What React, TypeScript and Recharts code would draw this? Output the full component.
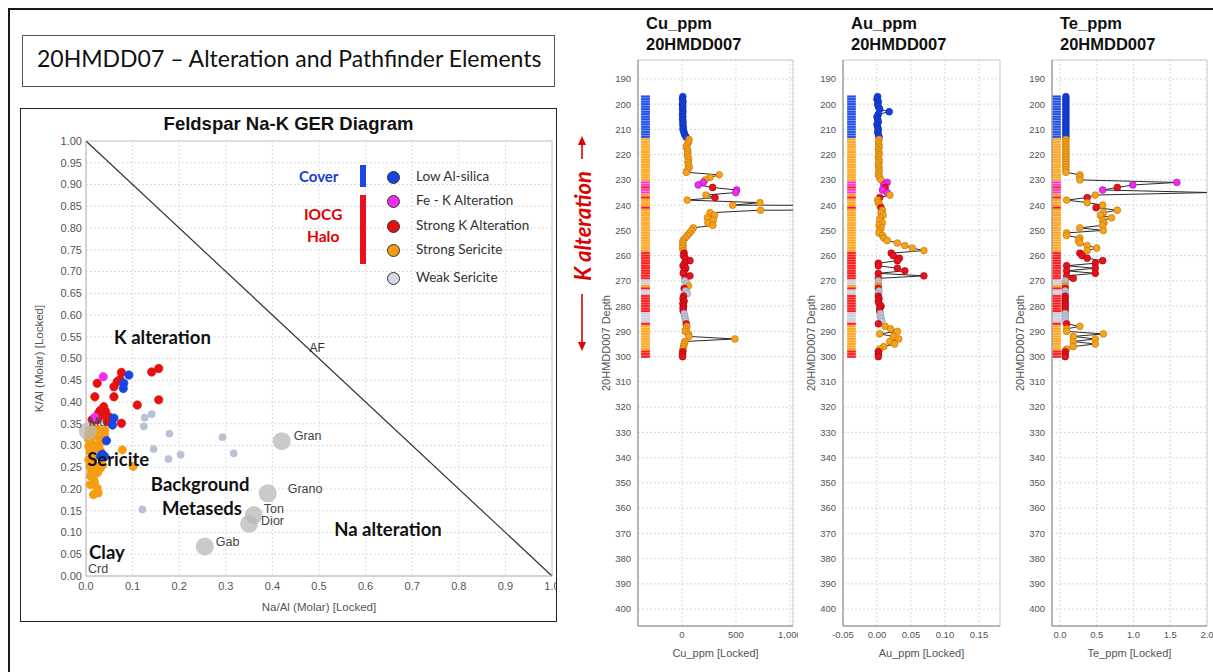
import React from 'react';
import {
  ScatterChart, Scatter, XAxis, YAxis, CartesianGrid, ReferenceLine, ReferenceDot, ReferenceArea, LabelList,
} from 'recharts';

const ARIAL = '"Liberation Sans", Arial, sans-serif';
const CALIBRI = 'Lato, "Open Sans", sans-serif';

// GER diagram samples as [Na/Al, K/Al]
const lowAlSilica = [
  [0.092, 0.462], [0.081, 0.443], [0.08, 0.431], [0.06, 0.363], [0.057, 0.347],
  [0.044, 0.311], [0.04, 0.275], [0.031, 0.275], [0.035, 0.28],
];
const feKAlteration = [[0.037, 0.458], [0.019, 0.365]];
const strongKAlteration = [
  [0.024, 0.443], [0.019, 0.412], [0.076, 0.468], [0.073, 0.452], [0.067, 0.447], [0.06, 0.435],
  [0.06, 0.412], [0.141, 0.469], [0.156, 0.477], [0.156, 0.405], [0.11, 0.393], [0.076, 0.351],
  [0.038, 0.389], [0.042, 0.378], [0.027, 0.374], [0.049, 0.366], [0.024, 0.359], [0.013, 0.359],
  [0.035, 0.37], [0.045, 0.355], [0.03, 0.38], [0.055, 0.35],
];
const strongSericite = [
  [0.006, 0.328], [0.013, 0.32], [0.009, 0.335], [0.02, 0.33], [0.027, 0.336], [0.04, 0.324],
  [0.035, 0.309], [0.03, 0.315], [0.024, 0.299], [0.006, 0.298], [0.012, 0.305], [0.018, 0.29],
  [0.009, 0.285], [0.03, 0.29], [0.006, 0.267], [0.015, 0.27], [0.009, 0.252], [0.02, 0.252],
  [0.031, 0.248], [0.012, 0.24], [0.025, 0.238], [0.016, 0.225], [0.01, 0.23], [0.009, 0.21],
  [0.024, 0.202], [0.016, 0.187], [0.026, 0.191], [0.018, 0.215], [0.035, 0.255], [0.078, 0.29],
  [0.101, 0.252], [0.005, 0.315], [0.015, 0.34], [0.04, 0.335],
];
const weakSericite = [
  [0.126, 0.364], [0.141, 0.372], [0.124, 0.344], [0.179, 0.327], [0.145, 0.292], [0.177, 0.269],
  [0.203, 0.279], [0.293, 0.319], [0.317, 0.282], [0.121, 0.153],
];

// reference rock / mineral compositions
const refNames = ['Mu', 'Gab', 'Dior', 'Ton', 'Grano', 'Gran'];
const refNaAl = [0.004, 0.255, 0.35, 0.36, 0.39, 0.42];
const refKAl = [0.333, 0.068, 0.12, 0.14, 0.19, 0.31];

const regionText = ['K alteration', 'Sericite', 'Background', 'Metaseds', 'Na alteration', 'Clay'];
const regionNaAl = [0.164, 0.069, 0.245, 0.249, 0.648, 0.045];
const regionKAl = [0.549, 0.269, 0.211, 0.156, 0.108, 0.055];

// downhole log, 20HMDD007
const depthM = [
  197, 198, 199, 200, 201, 202, 203, 204, 205, 206, 207, 208, 209, 210, 211, 212, 213,
  214, 215, 216, 217, 218, 219, 220, 221, 222, 223, 224, 225, 226, 227, 228, 229, 230,
  231, 232, 233, 234, 235, 236, 237, 238, 239, 240, 241, 242,
  243, 244, 245, 246, 247, 248, 249, 250, 251, 252, 253, 254, 255, 256, 257, 258,
  259, 260, 261, 262, 263, 264, 265, 266, 267, 268, 269,
  270, 271, 272, 273, 274, 275,
  276, 277, 278, 279, 280, 281, 282,
  283, 284, 285, 286, 287,
  288, 289, 290, 291, 292, 293, 294, 295, 296, 297,
  298, 299, 300,
];
// L = Low Al-silica, F = Fe-K, K = Strong K, S = Strong sericite, W = Weak sericite
const altClass = [
  'L', 'L', 'L', 'L', 'L', 'L', 'L', 'L', 'L', 'L', 'L', 'L', 'L', 'L', 'L', 'L', 'L',
  'S', 'S', 'S', 'S', 'S', 'S', 'S', 'S', 'S', 'S', 'S', 'S', 'S', 'S', 'S', 'S', 'S',
  'F', 'F', 'K', 'F', 'F', 'S', 'K', 'S', 'S', 'S', 'K', 'S',
  'S', 'S', 'S', 'S', 'S', 'S', 'S', 'S', 'S', 'S', 'S', 'S', 'S', 'S', 'S', 'S',
  'K', 'K', 'K', 'K', 'K', 'K', 'K', 'K', 'K', 'K', 'K',
  'W', 'W', 'S', 'K', 'W', 'W',
  'K', 'K', 'K', 'K', 'K', 'K', 'K',
  'W', 'W', 'W', 'W', 'K',
  'S', 'S', 'S', 'S', 'S', 'S', 'S', 'S', 'S', 'S',
  'K', 'K', 'K',
];
const cuPpm = [
  8, 5, 10, 4, 8, 6, 9, 5, 8, 6, 10, 8, 12, 10, 18, 25, 38,
  65, 62, 48, 40, 52, 55, 50, 56, 62, 55, 60, 68, 52, 40, 345, 260, 215,
  198, 151, 284, 506, 498, 222, 306, 49, 722, 469, 12000, 728,
  260, 300, 235, 290, 240, 285, 105, 90, 70, 50, 30, 10, 8, 10, 6, 12,
  20, 15, 30, 74, 25, 10, 35, 20, 12, 74, 30,
  25, 45, 60, 20, 35, 50,
  15, 10, 20, 8, 15, 10, 12,
  20, 25, 30, 35, 40,
  45, 38, 30, 59, 65, 490, 28, 20, 15, 10,
  8, 5, 6,
];
const auPpm = [
  0.001, 0.0, 0.002, 0.001, 0.002, 0.004, 0.018, 0.002, 0.0, 0.001, 0.002, 0.0, 0.001, 0.002, 0.001, 0.002, 0.003,
  0.003, 0.002, 0.003, 0.003, 0.002, 0.003, 0.003, 0.002, 0.003, 0.003, 0.002, 0.003, 0.003, 0.003, 0.002, 0.004, 0.006,
  0.015, 0.01, 0.012, 0.008, 0.015, 0.019, 0.004, 0.001, 0.002, 0.004, 0.006, 0.008,
  0.006, 0.009, 0.005, 0.004, 0.008, 0.003, 0.006, 0.004, 0.003, 0.008, 0.01, 0.015, 0.03, 0.041, 0.052, 0.069,
  0.021, 0.024, 0.033, 0.03, 0.002, 0.002, 0.03, 0.041, 0.002, 0.069, 0.002,
  0.002, 0.002, 0.002, 0.002, 0.003, 0.002,
  0.002, 0.003, 0.002, 0.003, 0.006, 0.004, 0.004,
  0.005, 0.005, 0.006, 0.007, 0.002,
  0.012, 0.02, 0.03, 0.004, 0.024, 0.032, 0.019, 0.026, 0.01, 0.004,
  0.002, 0.002, 0.002,
];
const tePpm = [
  0.08, 0.08, 0.08, 0.08, 0.08, 0.08, 0.08, 0.08, 0.08, 0.08, 0.08, 0.08, 0.08, 0.08, 0.08, 0.08, 0.08,
  0.08, 0.08, 0.08, 0.08, 0.08, 0.08, 0.08, 0.08, 0.08, 0.08, 0.08, 0.08, 0.08, 0.08, 0.27, 0.27, 0.27,
  1.59, 0.99, 0.78, 0.58, 2.05, 0.48, 0.37, 0.09, 0.37, 0.58, 0.49, 0.78,
  0.59, 0.55, 0.7, 0.58, 0.6, 0.58, 0.27, 0.59, 0.09, 0.09, 0.27, 0.25, 0.27, 0.37, 0.5, 0.37,
  0.27, 0.3, 0.37, 0.58, 0.48, 0.09, 0.48, 0.09, 0.48, 0.09, 0.18,
  0.07, 0.07, 0.07, 0.07, 0.07, 0.07,
  0.07, 0.07, 0.07, 0.07, 0.07, 0.07, 0.07,
  0.07, 0.07, 0.07, 0.07, 0.09,
  0.27, 0.09, 0.09, 0.59, 0.18, 0.48, 0.18, 0.48, 0.18, 0.09,
  0.07, 0.07, 0.07,
];

const depthTicks = [190, 200, 210, 220, 230, 240, 250, 260, 270, 280, 290, 300, 310, 320, 330, 340, 350, 360, 370, 380, 390, 400];
const gerYTicks = [0, 0.05, 0.1, 0.15, 0.2, 0.25, 0.3, 0.35, 0.4, 0.45, 0.5, 0.55, 0.6, 0.65, 0.7, 0.75, 0.8, 0.85, 0.9, 0.95, 1];
const gerXTicks = [0, 0.1, 0.2, 0.3, 0.4, 0.5, 0.6, 0.7, 0.8, 0.9, 1];

const fillOf: Record<string, string> = { L: '#1440e0', F: '#f02cf0', K: '#e8121c', S: '#f7a11c', W: '#c3c9db' };
const edgeOf: Record<string, string> = { L: '#0b2a9e', F: '#a010a0', K: '#a00008', S: '#b87400', W: '#8a92ab' };
const stripOf: Record<string, string> = { L: '#1f4fe8', F: '#ff36d2', K: '#ff1a1a', S: '#ffa51e', W: '#c9d0e2' };

const rows = depthM.map((d, i) => ({ depth: d, cls: altClass[i], cu: cuPpm[i], au: auPpm[i], te: tePpm[i] }));
const pts = (a: number[][]) => a.map(([x, y]) => ({ x, y }));
const refPts = refNames.map((n, i) => ({ name: n, x: refNaAl[i], y: refKAl[i] }));
const labelShift: Record<string, number[]> = {
  Mu: [1, -9], Gab: [11, -4], Dior: [12, -3], Ton: [10, -6], Grano: [20, -4], Gran: [12, -5],
};

const dot = (fill: string, stroke: string, r: number) => (p: any) => (
  <circle cx={p.cx} cy={p.cy} r={r} fill={fill} stroke={stroke} strokeWidth={0.7} />
);

function RefLabel(p: any) {
  const s = labelShift[p.value] || [10, -4];
  return (
    <text x={p.x + p.width / 2 + s[0]} y={p.y + p.height / 2 + s[1]} dy={4} fontSize={12.5} fill="#444" fontFamily={ARIAL}>
      {p.value}
    </text>
  );
}

function GerDiagram() {
  const tick = { fontSize: 11, fill: '#555', fontFamily: ARIAL };
  return (
    <div style={{ position: 'absolute', left: 20, top: 108, width: 537, height: 514, border: '1px solid #222', boxSizing: 'border-box' }}>
      <div style={{ position: 'absolute', left: 0, width: 535, top: 4, textAlign: 'center', fontFamily: ARIAL, fontWeight: 700, fontSize: 18.5, color: '#111' }}>
        Feldspar Na-K GER Diagram
      </div>
      <div style={{ position: 'absolute', left: 0, top: 0 }}>
        <ScatterChart width={535} height={512} margin={{ top: 32, right: 4, bottom: 0, left: 0 }}>
          <CartesianGrid strokeDasharray="2 2" stroke="#dcdcdc" />
          <XAxis type="number" dataKey="x" domain={[0, 1]} ticks={gerXTicks} interval={0} tick={tick}
            tickFormatter={(v: number) => v.toFixed(1)} tickLine={false} tickSize={4} tickMargin={2}
            axisLine={{ stroke: '#c8c8c8' }} height={45}
            label={{ value: 'Na/Al (Molar) [Locked]', position: 'insideBottom', offset: 10, fontSize: 11.5, fill: '#555', fontFamily: ARIAL }} />
          <YAxis type="number" dataKey="y" domain={[0, 1]} ticks={gerYTicks} interval={0} tick={tick}
            tickFormatter={(v: number) => v.toFixed(2)} tickLine={false} tickSize={2} tickMargin={2}
            axisLine={{ stroke: '#c8c8c8' }} width={65}
            label={{ value: 'K/Al (Molar) [Locked]', angle: -90, position: 'insideLeft', offset: 18, style: { textAnchor: 'middle' }, fontSize: 11.5, fill: '#555', fontFamily: ARIAL }} />
          <ReferenceArea x1={0} x2={1} y1={0} y2={1} fill="none" stroke="#c8c8c8" />
          <ReferenceLine segment={[{ x: 0, y: 1 }, { x: 1, y: 0 }]} stroke="#333" strokeWidth={1.2} />
          <Scatter data={pts(weakSericite)} isAnimationActive={false} shape={dot('#b9c1d6', '#b9c1d6', 3.6)} />
          <Scatter data={pts(strongSericite)} isAnimationActive={false} shape={dot('#f59d12', '#f59d12', 4.2)} />
          <Scatter data={pts(strongKAlteration)} isAnimationActive={false} shape={dot('#e61010', '#e61010', 4.2)} />
          <Scatter data={pts(feKAlteration)} isAnimationActive={false} shape={dot('#f02cf0', '#f02cf0', 4.2)} />
          <Scatter data={pts(lowAlSilica)} isAnimationActive={false} shape={dot('#1646e6', '#1646e6', 4.2)} />
          <Scatter data={refPts} isAnimationActive={false} shape={(p: any) => <circle cx={p.cx} cy={p.cy} r={9} fill="#b8b8b8" fillOpacity={0.75} />}>
            <LabelList dataKey="name" content={RefLabel} />
          </Scatter>
          <ReferenceDot x={0.496} y={0.524} r={0} fill="none" stroke="none"
            label={{ value: 'AF', position: 'center', fontSize: 12, fill: '#333', fontFamily: ARIAL }} />
          <ReferenceDot x={0.026} y={0.018} r={0} fill="none" stroke="none"
            label={{ value: 'Crd', position: 'center', fontSize: 12.5, fill: '#444', fontFamily: ARIAL }} />
          {regionText.map((t, i) => (
            <ReferenceDot key={t} x={regionNaAl[i]} y={regionKAl[i]} r={0} fill="none" stroke="none"
              label={{ value: t, position: 'center', fontSize: 18.5, fontWeight: 700, fill: '#111', fontFamily: CALIBRI }} />
          ))}
        </ScatterChart>
      </div>
    </div>
  );
}

function GerLegend() {
  const items = [
    ['Low Al-silica', '#1646e6'], ['Fe - K Alteration', '#f02cf0'], ['Strong K Alteration', '#e61010'],
    ['Strong Sericite', '#f59d12'], ['Weak Sericite', '#d5d9e6'],
  ];
  const ys = [177, 201, 226, 250, 278];
  return (
    <div style={{ position: 'absolute', left: 0, top: 0 }}>
      <div style={{ position: 'absolute', left: 299, top: 167, fontFamily: CALIBRI, fontWeight: 700, fontSize: 15, color: '#1a3cd0' }}>Cover</div>
      <div style={{ position: 'absolute', left: 304, top: 203, fontFamily: CALIBRI, fontWeight: 700, fontSize: 15.5, color: '#e00000', textAlign: 'center', lineHeight: '22px' }}>
        IOCG<br />Halo
      </div>
      <div style={{ position: 'absolute', left: 360, top: 165, width: 6, height: 22, background: '#1646e6' }} />
      <div style={{ position: 'absolute', left: 360, top: 195, width: 6, height: 69, background: '#e8121c' }} />
      {items.map(([t, c], i) => (
        <React.Fragment key={t}>
          <div style={{ position: 'absolute', left: 387, top: ys[i] - 6.5, width: 11, height: 11, borderRadius: '50%', background: c, border: '1px solid #333' }} />
          <div style={{ position: 'absolute', left: 416, top: ys[i] - 9.5, fontFamily: CALIBRI, fontSize: 13.5, color: '#333', whiteSpace: 'nowrap' }}>{t}</div>
        </React.Fragment>
      ))}
    </div>
  );
}

interface PanelProps {
  title: string; field: string; left: number; width: number; right: number;
  domain: number[]; ticks: number[]; fmt: (v: number) => string; strip: number[]; axisTitle: string;
}

function LogPanel({ title, field, left, width, right, domain, ticks, fmt, strip, axisTitle }: PanelProps) {
  const tick = { fontSize: 9.5, fill: '#555', fontFamily: ARIAL };
  const yDomain = [182.5, 406.7];
  return (
    <>
      <div style={{ position: 'absolute', left: left + 51, top: 13, fontFamily: ARIAL, fontWeight: 700, fontSize: 16.5, lineHeight: '21px', color: '#111' }}>
        {title}<br />20HMDD007
      </div>
      <div style={{ position: 'absolute', left, top: 50, width, overflow: 'hidden' }}>
        <ScatterChart width={width} height={622} margin={{ top: 10, right, bottom: 0, left: 8 }}>
          <CartesianGrid strokeDasharray="2 2" stroke="#d8d8d8" />
          <XAxis type="number" dataKey={field} domain={domain} allowDataOverflow ticks={ticks} interval={0}
            tick={tick} tickFormatter={fmt} tickLine={false} tickSize={3} tickMargin={2} height={46}
            axisLine={{ stroke: '#8a8a8a' }}
            label={{ value: axisTitle, position: 'insideBottom', offset: 15, fontSize: 11, fill: '#555', fontFamily: ARIAL }} />
          <YAxis type="number" dataKey="depth" reversed domain={yDomain} allowDataOverflow ticks={depthTicks} interval={0}
            tick={tick} tickLine={false} tickSize={5} tickMargin={2} width={35} axisLine={{ stroke: '#8a8a8a' }}
            label={{ value: '20HMDD007 Depth', angle: -90, position: 'insideLeft', offset: 3, style: { textAnchor: 'middle' }, fontSize: 11, fill: '#555', fontFamily: ARIAL }} />
          <ReferenceArea x1={domain[0]} x2={domain[1]} y1={yDomain[0]} y2={yDomain[1]} fill="none" stroke="#cfcfcf" />
          {rows.map((r) => (
            <ReferenceArea key={r.depth} x1={strip[0]} x2={strip[1]} y1={r.depth - 0.5} y2={r.depth + 0.5}
              fill={stripOf[r.cls]} fillOpacity={1} stroke="#ffffff" strokeOpacity={0.35} strokeWidth={0.5} />
          ))}
          <Scatter data={rows} isAnimationActive={false} line={{ stroke: '#2a2a2a', strokeWidth: 1 }} lineType="joint"
            shape={(p: any) => (
              <circle cx={p.cx} cy={p.cy} r={3.4} fill={fillOf[p.payload.cls]} stroke={edgeOf[p.payload.cls]} strokeWidth={0.6} />
            )} />
        </ScatterChart>
      </div>
    </>
  );
}

export default function App() {
  return (
    <div style={{ position: 'absolute', left: 0, top: 0, width: 1213, height: 672, background: '#fff', overflow: 'hidden', fontFamily: ARIAL }}>
      <div style={{ position: 'absolute', left: 8, top: 8, width: 1220, height: 700, borderTop: '2px solid #1a1a1a', borderLeft: '2px solid #1a1a1a' }} />
      <div style={{ position: 'absolute', left: 22, top: 35, width: 533, height: 52, border: '1px solid #555', boxSizing: 'border-box' }} />
      <div style={{ position: 'absolute', left: 37, top: 44, fontFamily: CALIBRI, fontSize: 23, color: '#111', whiteSpace: 'nowrap' }}>
        20HMDD07 – Alteration and Pathfinder Elements
      </div>
      <GerDiagram />
      <GerLegend />
      <LogPanel title="Cu_ppm" field="cu" left={595} width={203} right={5} domain={[-407, 1028]} ticks={[0, 500, 1000]}
        fmt={(v: number) => v.toLocaleString('en-US')} strip={[-380, -296]} axisTitle="Cu_ppm [Locked]" />
      <LogPanel title="Au_ppm" field="au" left={800} width={203} right={3} domain={[-0.05, 0.181]}
        ticks={[-0.05, 0, 0.05, 0.1, 0.15, 0.2]} fmt={(v: number) => v.toFixed(2)} strip={[-0.044, -0.031]} axisTitle="Au_ppm [Locked]" />
      <LogPanel title="Te_ppm" field="te" left={1009} width={204} right={6} domain={[-0.109, 2.0]}
        ticks={[0, 0.5, 1, 1.5, 2]} fmt={(v: number) => v.toFixed(1)} strip={[-0.105, 0.013]} axisTitle="Te_ppm [Locked]" />
      <svg style={{ position: 'absolute', left: 570, top: 130 }} width={24} height={230}>
        <line x1={12} y1={12} x2={12} y2={29} stroke="#e00000" strokeWidth={1.6} />
        <polygon points="12,6 8,15 16,15" fill="#e00000" />
        <line x1={12} y1={164} x2={12} y2={214} stroke="#e00000" strokeWidth={1.6} />
        <polygon points="12,221 8,212 16,212" fill="#e00000" />
      </svg>
      <div style={{ position: 'absolute', left: 582, top: 226, transform: 'translate(-50%, -50%) rotate(-90deg)', fontFamily: CALIBRI, fontWeight: 700, fontStyle: 'italic', fontSize: 22, color: '#e00000', whiteSpace: 'nowrap' }}>
        K alteration
      </div>
    </div>
  );
}
